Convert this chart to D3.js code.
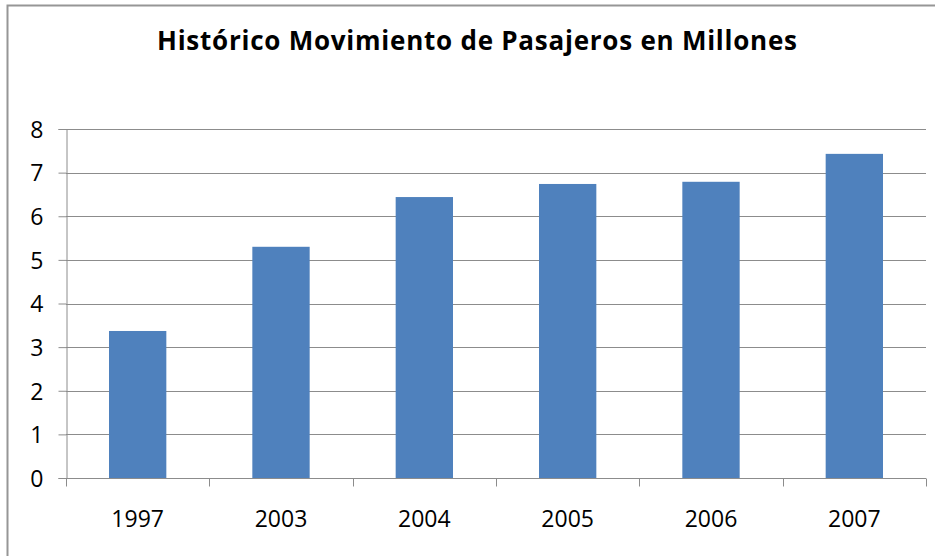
<!DOCTYPE html>
<html lang="es">
<head>
  <meta charset="UTF-8">
  <title>Histórico Movimiento de Pasajeros</title>
  <script src="https://d3js.org/d3.v7.min.js"></script>
  <style>
    body { margin: 0; background: #fff; }
    text { font-family: "Open Sans", "Liberation Sans", sans-serif; fill: #000; }
    .title { font-size: 26px; font-weight: bold; }
    .tick text { font-size: 23px; }
  </style>
</head>
<body>
  <div id="chart"></div>
  <script>
    const years = ["1997", "2003", "2004", "2005", "2006", "2007"];
    const passengers = [3.37, 5.30, 6.44, 6.74, 6.79, 7.43];
    const yTicks = [0, 1, 2, 3, 4, 5, 6, 7, 8];

    const width = 935, height = 556;
    const margin = { top: 129, right: 9, bottom: 78, left: 66 };

    const svg = d3.select("#chart").append("svg")
      .attr("width", width)
      .attr("height", height);

    // chart border (right/bottom edges fall outside the picture)
    svg.append("rect")
      .attr("x", 7.5).attr("y", 5.5)
      .attr("width", 960).attr("height", 600)
      .attr("fill", "none")
      .attr("stroke", "#969696")
      .attr("stroke-width", 2);

    svg.append("text")
      .attr("class", "title")
      .attr("x", 477).attr("y", 50)
      .attr("text-anchor", "middle")
      .attr("textLength", 640)
      .text("Histórico Movimiento de Pasajeros en Millones");

    const x = d3.scaleBand()
      .domain(years)
      .range([margin.left, width - margin.right])
      .paddingInner(0.6)
      .paddingOuter(0.3);

    const y = d3.scaleLinear()
      .domain([0, 8])
      .range([height - margin.bottom, margin.top]);

    // gridlines
    svg.append("g")
      .selectAll("line")
      .data(yTicks)
      .join("line")
      .attr("x1", margin.left).attr("x2", width - margin.right)
      .attr("y1", d => Math.round(y(d)) + 0.5).attr("y2", d => Math.round(y(d)) + 0.5)
      .attr("stroke", "#8c8c8c");

    svg.append("g")
      .selectAll("rect")
      .data(passengers)
      .join("rect")
      .attr("x", (d, i) => x(years[i]))
      .attr("width", x.bandwidth())
      .attr("y", d => y(d))
      .attr("height", d => y(0) - y(d))
      .attr("fill", "#4f81bd");

    const yAxis = svg.append("g")
      .attr("transform", `translate(${margin.left + 0.5},0)`)
      .call(d3.axisLeft(y).tickValues(yTicks).tickSize(8).tickPadding(15).tickFormat(d3.format("d")));
    yAxis.selectAll("line, path").attr("stroke", "#8c8c8c");
    yAxis.selectAll("text").attr("dy", "0.36em");

    // x axis with ticks at category boundaries
    const step = x.step();
    const bounds = d3.range(years.length + 1).map(i => margin.left + i * step);
    const xAxis = svg.append("g")
      .attr("transform", `translate(0,${Math.round(y(0)) + 0.5})`);
    xAxis.append("line")
      .attr("x1", margin.left).attr("x2", width - margin.right)
      .attr("stroke", "#8c8c8c");
    xAxis.selectAll(".bt")
      .data(bounds)
      .join("line")
      .attr("class", "bt")
      .attr("x1", d => Math.round(d) + 0.5).attr("x2", d => Math.round(d) + 0.5)
      .attr("y1", 0).attr("y2", 8)
      .attr("stroke", "#8c8c8c");
    xAxis.selectAll(".lbl")
      .data(years)
      .join("text")
      .attr("class", "lbl")
      .attr("x", d => x(d) + x.bandwidth() / 2)
      .attr("y", 48)
      .attr("text-anchor", "middle")
      .style("font-size", "23px")
      .text(d => d);
  </script>
</body>
</html>
